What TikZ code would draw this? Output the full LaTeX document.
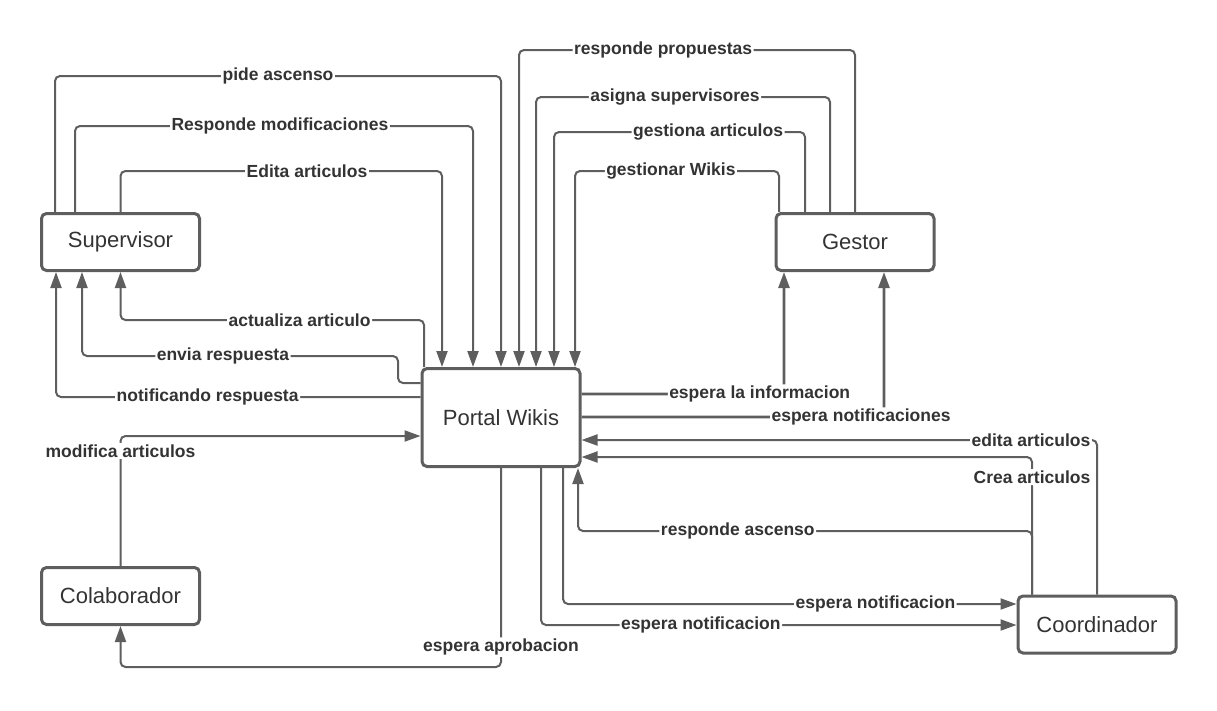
\documentclass[tikz,border=0pt]{standalone}
\usepackage{fontspec}
\setmainfont{Liberation Sans}
\usetikzlibrary{arrows.meta}
\definecolor{ln}{HTML}{5E5E5E}
\definecolor{tx}{HTML}{333333}
\tikzset{
  box/.style={draw=ln, line width=3pt, rounded corners=5pt, minimum width=158pt, minimum height=57pt, text=tx, font=\fontsize{22}{26}\selectfont, inner sep=0pt},
  conn/.style={draw=ln, line width=2pt, rounded corners=5pt},
  arr/.style={conn, -{Triangle[length=16pt,width=11pt]}},
  lbl/.style={fill=white, text=tx, font=\fontsize{17.5}{20}\bfseries\selectfont, inner sep=1.5pt},
  thick conn/.style={line width=2.6pt}
}
\begin{document}
\begin{tikzpicture}[x=1pt,y=-1pt]
\useasboundingbox (0,0) rectangle (1217,710);
% nodes
\node[box] (sup) at (120.5,242) {Supervisor};
\node[box] (ges) at (855,242) {Gestor};
\node[box, minimum height=98pt] (por) at (501,417.5) {Portal Wikis};
\node[box] (col) at (120.5,596) {Colaborador};
\node[box] (coo) at (1097,624.5) {Coordinador};

% Supervisor -> Portal
\draw[arr] (sup.north -| 55,0) -- (55,76) -- node[lbl,pos=0.5]{pide ascenso} (501,76) -- (por.north -| 501,0);
\draw[arr] (sup.north -| 75,0) -- (75,126) -- node[lbl,pos=0.515]{Responde modificaciones} (473,126) -- (por.north -| 473,0);
\draw[arr] (sup.north -| 120.5,0) -- (120.5,171) -- node[lbl,pos=0.58]{Edita articulos} (442,171) -- (por.north -| 442,0);

% Gestor -> Portal
\draw[arr] (ges.north -| 855,0) -- (855,50) -- node[lbl,pos=0.571]{responde propuestas} (519,50) -- (por.north -| 519,0);
\draw[arr] (ges.north -| 830,0) -- (830,97) -- node[lbl,pos=0.527]{asigna supervisores} (536,97) -- (por.north -| 536,0);
\draw[arr] (ges.north -| 805,0) -- (805,132) -- node[lbl,pos=0.386]{gestiona articulos} (554,132) -- (por.north -| 554,0);
\draw[arr] (ges.north -| 779,0) -- (779,171) -- node[lbl,pos=0.53]{gestionar Wikis} (575,171) -- (por.north -| 575,0);

% Portal -> Gestor
\draw[arr, thick conn] (por.east |- 0,394) -- node[lbl,pos=0.88]{espera la informacion} (784,394) -- (ges.south -| 784,0);
\draw[arr, thick conn] (por.east |- 0,417) -- node[lbl,pos=0.924]{espera notificaciones} (884,417) -- (ges.south -| 884,0);

% Coordinador -> Portal
\draw[arr] (coo.north -| 1097,0) -- (1097,440) -- node[lbl,pos=0.128]{edita articulos} (por.east |- 0,440);
\draw[arr] (coo.north -| 1032,0) -- node[lbl,pos=0.854]{Crea articulos} (1032,457) -- (por.east |- 0,457);
\draw[arr] (coo.north -| 1032,0) -- (1032,531) -- node[lbl,pos=0.648]{responde ascenso} (578,531) -- (por.south -| 578,0);

% Portal -> Coordinador
\draw[arr] (por.south -| 563,0) -- (563,604) -- node[lbl,pos=0.689]{espera notificacion} (coo.west |- 0,604);
\draw[arr] (por.south -| 541,0) -- (541,625) -- node[lbl,pos=0.336]{espera notificacion} (coo.west |- 0,625);

% Portal -> Colaborador
\draw[arr] (por.south -| 501,0) -- node[lbl,pos=0.9]{espera aprobacion} (501,667) -- (120.5,667) -- (col.south -| 120.5,0);
% Colaborador -> Portal
\draw[arr] (col.north -| 120.5,0) -- node[lbl,pos=0.885]{modifica articulos} (120.5,436) -- (por.west |- 0,436);

% Portal -> Supervisor
\draw[arr] (por.north -| 424,0) -- (424,320) -- node[lbl,pos=0.41]{actualiza articulo} (120.5,320) -- (sup.south -| 120.5,0);
\draw[arr] (por.west |- 0,383) -- (398,383) -- (398,356) -- node[lbl,pos=0.554]{envia respuesta} (82,356) -- (sup.south -| 82,0);
\draw[arr] (por.west |- 0,397) -- node[lbl,pos=0.584]{notificando respuesta} (56,397) -- (sup.south -| 56,0);
\end{tikzpicture}
\end{document}
